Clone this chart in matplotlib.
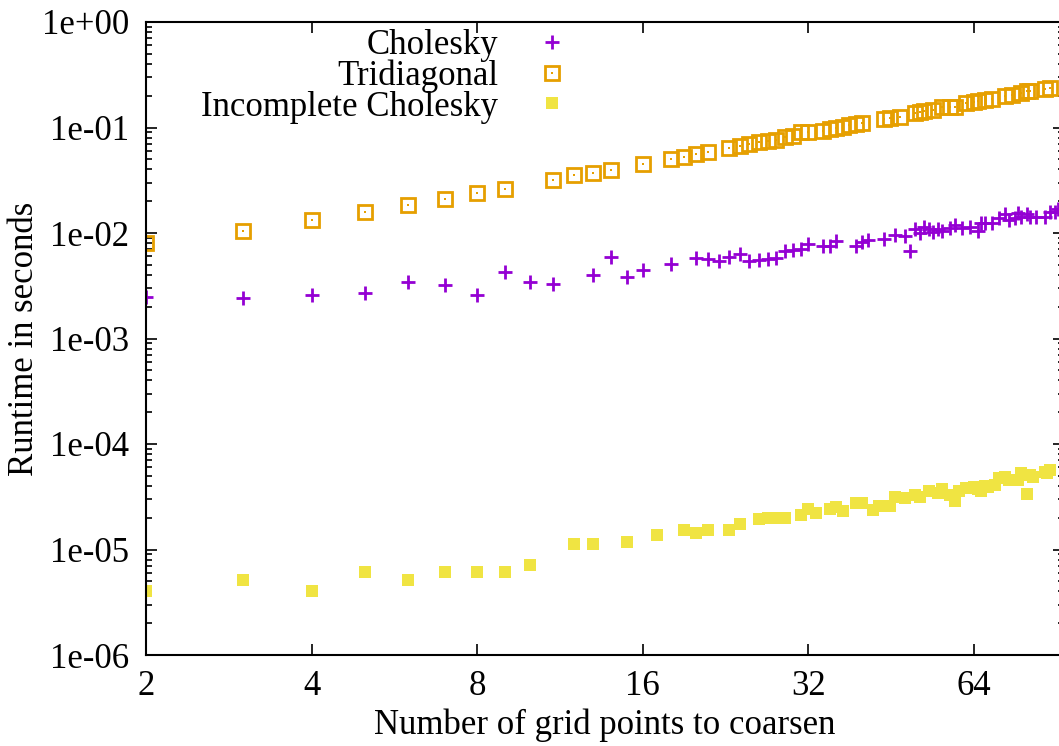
"""
Runtime comparison of the three solvers (log-log plot, gnuplot look).
"""

import numpy as np
import matplotlib
matplotlib.use("Agg")
import matplotlib.pyplot as plt
from matplotlib.legend_handler import HandlerTuple

# data
chol_x = [2, 3, 4, 5, 6, 7, 8, 9, 10, 11, 13, 14, 15, 16, 18, 20, 21, 22, 23, 24,
          25, 26, 27, 28, 29, 30, 31, 32, 34, 35, 36, 39, 40, 41, 44, 46, 48, 49,
          50, 51, 52, 53, 54, 55, 56, 58, 59, 61, 63, 65, 66, 67, 69, 71, 73, 74,
          76, 77, 78, 80, 81, 83, 86, 88, 90, 91]
chol_y = [2.47e-3, 2.40e-3, 2.58e-3, 2.68e-3, 3.43e-3, 3.24e-3, 2.57e-3, 4.24e-3,
          3.43e-3, 3.31e-3, 4.0e-3, 5.96e-3, 3.80e-3, 4.46e-3, 5.12e-3, 5.83e-3,
          5.7e-3, 5.4e-3, 5.96e-3, 6.32e-3, 5.4e-3, 5.55e-3, 5.65e-3, 5.83e-3,
          6.8e-3, 6.95e-3, 7.1e-3, 7.92e-3, 7.6e-3, 7.6e-3, 8.4e-3, 7.6e-3, 8.2e-3,
          8.5e-3, 8.8e-3, 9.6e-3, 9.4e-3, 6.8e-3, 1.10e-2, 1.01e-2, 1.15e-2,
          1.08e-2, 1.02e-2, 1.10e-2, 1.05e-2, 1.11e-2, 1.18e-2, 1.11e-2, 1.15e-2,
          1.05e-2, 1.24e-2, 1.24e-2, 1.24e-2, 1.40e-2, 1.51e-2, 1.33e-2, 1.40e-2,
          1.54e-2, 1.43e-2, 1.51e-2, 1.43e-2, 1.43e-2, 1.43e-2, 1.58e-2, 1.58e-2,
          1.70e-2]

tri_x = [2, 3, 4, 5, 6, 7, 8, 9, 11, 12, 13, 14, 16, 18, 19, 20, 21, 23, 24, 25,
         26, 27, 28, 29, 30, 31, 32, 34, 35, 36, 37, 38, 39, 40, 44, 45, 47, 50,
         51, 52, 54, 56, 58, 59, 62, 64, 65, 67, 69, 73, 75, 78, 80, 81, 86, 88]
tri_y = [7.98e-3, 1.04e-2, 1.32e-2, 1.57e-2, 1.84e-2, 2.12e-2, 2.38e-2, 2.59e-2,
         3.16e-2, 3.52e-2, 3.73e-2, 3.98e-2, 4.48e-2, 5.06e-2, 5.29e-2, 5.57e-2,
         5.86e-2, 6.4e-2, 6.64e-2, 6.98e-2, 7.33e-2, 7.45e-2, 7.67e-2, 8.18e-2,
         8.25e-2, 9.06e-2, 9.1e-2, 9.33e-2, 9.75e-2, 1.0e-1, 1.02e-1, 1.05e-1,
         1.07e-1, 1.10e-1, 1.20e-1, 1.23e-1, 1.27e-1, 1.36e-1, 1.39e-1, 1.42e-1,
         1.47e-1, 1.57e-1, 1.55e-1, 1.57e-1, 1.70e-1, 1.74e-1, 1.78e-1, 1.84e-1,
         1.88e-1, 1.99e-1, 2.02e-1, 2.14e-1, 2.20e-1, 2.22e-1, 2.33e-1, 2.35e-1]

ic_x = [2, 3, 4, 5, 6, 7, 8, 9, 10, 12, 13, 15, 17, 19, 20, 21, 23, 24, 26, 27,
        28, 29, 31, 32, 33, 35, 36, 37, 39, 40, 42, 43, 45, 46, 48, 50, 51, 53,
        55, 56, 58, 59, 60, 62, 64, 65, 66, 67, 68, 70, 71, 73, 74, 77, 78, 80,
        81, 82, 86, 87, 88]
ic_y = [4.02e-6, 5.1e-6, 4.0e-6, 6.08e-6, 5.1e-6, 6.08e-6, 6.08e-6, 6.08e-6,
        7.08e-6, 1.12e-5, 1.12e-5, 1.17e-5, 1.36e-5, 1.52e-5, 1.42e-5, 1.52e-5,
        1.52e-5, 1.73e-5, 1.93e-5, 2.0e-5, 1.97e-5, 1.97e-5, 2.11e-5, 2.4e-5,
        2.2e-5, 2.4e-5, 2.51e-5, 2.3e-5, 2.74e-5, 2.74e-5, 2.35e-5, 2.56e-5,
        2.56e-5, 3.13e-5, 3.05e-5, 3.27e-5, 3.13e-5, 3.57e-5, 3.41e-5, 3.72e-5,
        3.27e-5, 2.86e-5, 3.57e-5, 3.82e-5, 3.91e-5, 3.72e-5, 3.57e-5, 4.0e-5,
        3.91e-5, 4.1e-5, 4.73e-5, 4.84e-5, 4.6e-5, 4.6e-5, 5.27e-5, 3.33e-5,
        5.05e-5, 4.84e-5, 5.4e-5, 5.27e-5, 5.63e-5]

x_ticks = [2, 4, 8, 16, 32, 64]
y_ticks = [1e-6, 1e-5, 1e-4, 1e-3, 1e-2, 1e-1, 1e0]
y_labels = ["1e-06", "1e-05", "1e-04", "1e-03", "1e-02", "1e-01", "1e+00"]

purple = "#9400d3"
orange = "#e69f00"
yellow = "#f0e442"

plt.rcParams["font.family"] = ["Liberation Serif", "DejaVu Serif"]
plt.rcParams["font.size"] = 25

fig = plt.figure(figsize=(10.59, 7.46), dpi=100)
# plot area runs a bit past the right edge of the picture (cropped gnuplot output)
ax = fig.add_axes([146 / 1059, 1 - 655 / 746, 918 / 1059, 633 / 746])

ax.set_xscale("log", base=2)
ax.set_yscale("log")

h_chol, = ax.plot(chol_x, chol_y, ls="none", marker="+", ms=10.5, mew=2,
                  color=purple)
h_tri, = ax.plot(tri_x, tri_y, ls="none", marker="s", ms=9.5, mew=2,
                 mfc="none", mec=orange)
h_dot, = ax.plot(tri_x, tri_y, ls="none", marker="s", ms=1.5, mew=0,
                 color=orange)
h_ic, = ax.plot(ic_x, ic_y, ls="none", marker="s", ms=8.5, mew=0,
                color=yellow)

ax.set_xlim(2, 93.3)
ax.set_ylim(1e-6, 1)

ax.set_xticks(x_ticks)
ax.set_xticklabels([str(v) for v in x_ticks])
ax.xaxis.set_minor_locator(matplotlib.ticker.NullLocator())
ax.set_yticks(y_ticks)
ax.set_yticklabels(y_labels)
ax.yaxis.set_minor_locator(matplotlib.ticker.LogLocator(base=10, subs=np.arange(2, 10)))
ax.yaxis.set_minor_formatter(matplotlib.ticker.NullFormatter())

ax.tick_params(which="both", direction="in", top=True, right=True, width=1.2)
ax.tick_params(which="major", length=8)
ax.tick_params(which="minor", length=4)
ax.tick_params(axis="x", pad=11)
ax.tick_params(axis="y", pad=12)
ax.spines["right"].set_visible(False)
for s in ["left", "top", "bottom"]:
    ax.spines[s].set_linewidth(1.5)

ax.set_xlabel("Number of grid points to coarsen")
ax.set_ylabel("Runtime in seconds")
ax.xaxis.set_label_coords(0.5, -0.085)
ax.yaxis.set_label_coords(-0.114, 0.5)

leg = ax.legend([h_chol, (h_tri, h_dot), h_ic],
                ["Cholesky", "Tridiagonal", "Incomplete Cholesky"],
                handler_map={tuple: HandlerTuple(ndivide=1)},
                markerfirst=False, frameon=False, loc="upper right",
                bbox_to_anchor=(618 / 1059, 1.003), bbox_transform=fig.transFigure,
                handletextpad=0.55, labelspacing=-0.07, borderpad=0.4,
                handlelength=2.0)

fig.savefig("out.png", dpi=100)
